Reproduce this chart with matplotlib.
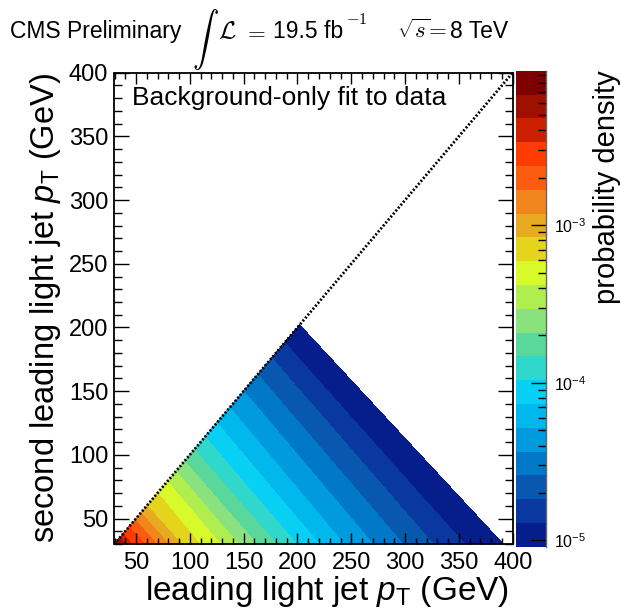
import numpy as np
import matplotlib
matplotlib.use("Agg")
import matplotlib.pyplot as plt
import matplotlib.tri as mtri
from matplotlib.ticker import FixedLocator, MultipleLocator

plt.rcParams['font.family'] = ['Liberation Sans', 'DejaVu Sans']
plt.rcParams['mathtext.fontset'] = 'custom'
plt.rcParams['mathtext.rm'] = 'Liberation Sans'
plt.rcParams['mathtext.it'] = 'Liberation Sans:italic'
plt.rcParams['mathtext.bf'] = 'Liberation Sans:bold'

# colour scale: log10(probability density), 20 bands
zmin_log = -5.04
zmax_log = -2.02
band_colors = ['#051e8c', '#0838a0', '#0858b0', '#0078c8', '#009ade',
               '#00b8ec', '#08d0f4', '#30d8cc', '#5ad89c', '#8ae27e',
               '#b0ee50', '#d8fa2a', '#e4d41c', '#e8aa20', '#f0861c',
               '#fa5c10', '#ff3c00', '#cc2000', '#a01000', '#7f0000']

# where each band edge (k = 0..19) meets the x axis (y = 30) and the diagonal (x = y)
edge_bottom_x = [391, 355, 326, 298, 270, 243, 220, 199, 180, 162,
                 145, 128, 109, 92, 80, 69, 58, 46, 40, 33.5]
edge_diag = [202, 188, 176, 163, 150, 137, 125, 114, 104, 95,
             87, 79, 70, 60, 54.5, 49, 43.5, 38, 35, 31.8]
corner_log = -2.1  # value in the (30, 30) corner

ticks_major = [50, 100, 150, 200, 250, 300, 350, 400]

levels = np.linspace(zmin_log, zmax_log, 21)
n = len(edge_bottom_x)
# points: bottom edges 0..n-1, diagonal edges n..2n-1, corner 2n
px = list(edge_bottom_x) + list(edge_diag) + [30.0]
py = [30.0] * n + list(edge_diag) + [30.0]
pz = list(levels[:n]) + list(levels[:n]) + [corner_log]
tris = []
for k in range(n - 1):
    tris.append([k, n + k, n + k + 1])
    tris.append([k, n + k + 1, k + 1])
tris.append([n - 1, 2 * n - 1, 2 * n])
tri = mtri.Triangulation(px, py, tris)

W, H = 621, 611
fig = plt.figure(figsize=(W / 100, H / 100), dpi=100)
ax = fig.add_axes([114.5 / W, 1 - 544 / H, (512.7 - 114.5) / W, (544 - 72.7) / H])
cax = fig.add_axes([516 / W, 1 - 546.7 / H, 29.5 / W, (546.7 - 70.7) / H])

cs = ax.tricontourf(tri, pz, levels=levels, colors=band_colors)
ax.plot([30, 400], [30, 400], color='black', ls=(0, (0.7, 0.7)), lw=2, zorder=5)

ax.set_xlim(30, 400)
ax.set_ylim(30, 400)
ax.set_xticks(ticks_major)
ax.set_yticks(ticks_major)
ax.xaxis.set_minor_locator(MultipleLocator(10))
ax.yaxis.set_minor_locator(MultipleLocator(10))
ax.tick_params(axis='x', which='major', direction='in', length=8, width=1, top=True, labelsize=17, pad=6)
ax.tick_params(axis='x', which='minor', direction='in', length=4, width=1, top=True)
ax.tick_params(axis='y', which='major', direction='in', length=10.5, width=1, right=True, labelsize=17, pad=4.5)
ax.tick_params(axis='y', which='minor', direction='in', length=6, width=1, right=True)
for s in ax.spines.values():
    s.set_linewidth(1.3)

ax.set_xlabel(r'leading light jet $p_{\rm T}$ (GeV)', fontsize=24, ha='right', x=0.99, labelpad=0)
ax.set_ylabel(r'second leading light jet $p_{\rm T}$ (GeV)', fontsize=23.5, ha='right', y=1.0, labelpad=4)

fig.text(132 / W, 1 - 105 / H, 'Background-only fit to data', fontsize=19, va='baseline')

# colour bar
cb = fig.colorbar(cs, cax=cax)
cb.outline.set_visible(False)
cax.plot([1, 1], [0, 1], transform=cax.transAxes, color='0.4', lw=1, clip_on=False)
decades = [-5, -4, -3]
cax.yaxis.set_major_locator(FixedLocator(decades))
cax.set_yticklabels([r'$10^{%d}$' % d for d in decades])
minor = [d + np.log10(m) for d in [-6, -5, -4, -3, -2] for m in range(2, 10)]
minor = [m for m in minor if zmin_log <= m <= zmax_log]
cax.yaxis.set_minor_locator(FixedLocator(minor))
cax.tick_params(which='major', direction='in', length=10.5, width=1, labelsize=11.5, pad=6, color='black')
cax.tick_params(which='minor', direction='in', length=5.5, width=1, color='black')
fig.text(607 / W, 1 - 70 / H, 'probability density', fontsize=21, rotation=90,
         ha='center', va='top')

# header
yb = 1 - 38 / H
fig.text(10 / W, yb, 'CMS Preliminary', fontsize=16.5, va='baseline')
fig.text(205 / W, 1 - 40 / H, r'$\int$', fontsize=19, ha='center', va='center', math_fontfamily='cm')
fig.text(218 / W, yb, r'$\mathcal{L}$', fontsize=18, va='baseline', math_fontfamily='cm')
fig.text(243 / W, yb, r'$=$', fontsize=16.5, va='baseline', math_fontfamily='cm')
fig.text(273 / W, yb, '19.5 fb', fontsize=16.5, va='baseline')
fig.text(346 / W, 1 - 24 / H, r'$-1$', fontsize=11.5, va='baseline', math_fontfamily='cm')
fig.text(397 / W, yb, r'$\sqrt{s}\!=$', fontsize=16.5, va='baseline', math_fontfamily='cm')
fig.text(450 / W, yb, '8 TeV', fontsize=16.5, va='baseline')

fig.savefig('out.png', dpi=100)
